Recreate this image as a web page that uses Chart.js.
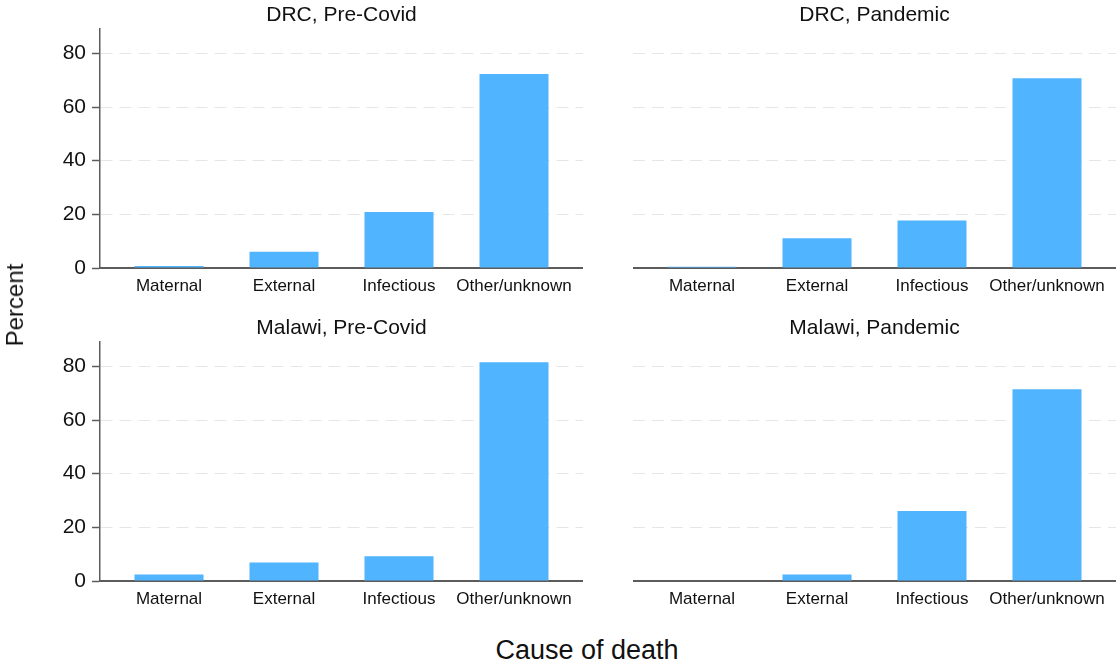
<!DOCTYPE html>
<html>
<head>
<meta charset="utf-8">
<title>Cause of death by period</title>
<script src="https://cdn.jsdelivr.net/npm/chart.js@4.4.1/dist/chart.umd.min.js"></script>
<style>
  html, body { margin: 0; padding: 0; background: #ffffff; }
  #wrap { position: relative; width: 1117px; height: 664px; overflow: hidden;
          font-family: "Liberation Sans", Arial, sans-serif; color: #111111; }
  canvas { position: absolute; }
  #ytitle { position: absolute; left: 15px; top: 305px; font-size: 24px; line-height: 1;
            white-space: nowrap; transform: translate(-50%, -50%) rotate(-90deg); }
  #xtitle { position: absolute; left: 587px; top: 650px; font-size: 27px; line-height: 1;
            white-space: nowrap; transform: translate(-50%, -50%); }
</style>
</head>
<body>
<div id="wrap">
  <canvas id="c0" width="583" height="300" style="left:0;top:0"></canvas>
  <canvas id="c1" width="483" height="300" style="left:633px;top:0"></canvas>
  <canvas id="c2" width="583" height="300" style="left:0;top:313px"></canvas>
  <canvas id="c3" width="483" height="300" style="left:633px;top:313px"></canvas>
  <div id="ytitle">Percent</div>
  <div id="xtitle">Cause of death</div>
</div>
<script>
// Share of deaths (%) by cause, per country and period
const causes = ['Maternal', 'External', 'Infectious', 'Other/unknown'];
const yTickValues = [0, 20, 40, 60, 80];
const drcPreCovid = [0.7, 6.1, 20.9, 72.3];
const drcPandemic = [0.5, 11.1, 17.7, 70.7];
const malawiPreCovid = [2.4, 6.9, 9.2, 81.5];
const malawiPandemic = [0, 2.4, 26.1, 71.5];
const panelTitles = ['DRC, Pre-Covid', 'DRC, Pandemic', 'Malawi, Pre-Covid', 'Malawi, Pandemic'];

const BAR = '#50b4ff';
const INK = '#111111';
const AXIS = '#5c5c5c';
const GRID = '#e6e6e6';

Chart.defaults.font.family = "'Liberation Sans', Arial, sans-serif";

function makePanel(canvasId, title, values, showYAxis) {
  return new Chart(document.getElementById(canvasId), {
    type: 'bar',
    data: {
      datasets: [{
        data: values.map((v, i) => ({ x: i, y: v })),
        backgroundColor: BAR,
        borderWidth: 0,
        categoryPercentage: 0.6,
        barPercentage: 1
      }]
    },
    options: {
      responsive: false,
      animation: false,
      events: [],
      layout: { padding: 0 },
      plugins: {
        legend: { display: false },
        tooltip: { enabled: false },
        title: {
          display: true,
          text: title,
          fullSize: false,
          color: INK,
          font: { size: 21, weight: 'normal' },
          padding: { top: 3, bottom: 1 }
        }
      },
      scales: {
        x: {
          type: 'linear',
          min: -0.6,
          max: 3.6,
          offset: false,
          afterBuildTicks: s => { s.ticks = causes.map((_, i) => ({ value: i })); },
          afterFit: s => { s.height = 32; },
          grid: { display: false, drawTicks: false },
          border: { display: true, color: AXIS, width: 2 },
          ticks: {
            callback: v => causes[v],
            color: INK,
            font: { size: 17 },
            padding: 8,
            maxRotation: 0,
            autoSkip: false
          }
        },
        y: {
          min: 0,
          max: 89,
          afterBuildTicks: s => { s.ticks = yTickValues.map(v => ({ value: v })); },
          afterFit: s => { s.width = showYAxis ? 100 : 0; },
          grid: {
            color: GRID,
            lineWidth: 1,
            drawTicks: showYAxis,
            tickLength: 8,
            tickColor: AXIS,
            tickWidth: 1.5,
            tickBorderDash: []
          },
          border: { display: showYAxis, color: AXIS, width: 1.5, dash: [12, 7] },
          ticks: { display: showYAxis, color: INK, font: { size: 21 }, padding: 6 }
        }
      }
    }
  });
}

makePanel('c0', panelTitles[0], drcPreCovid, true);
makePanel('c1', panelTitles[1], drcPandemic, false);
makePanel('c2', panelTitles[2], malawiPreCovid, true);
makePanel('c3', panelTitles[3], malawiPandemic, false);
</script>
</body>
</html>
